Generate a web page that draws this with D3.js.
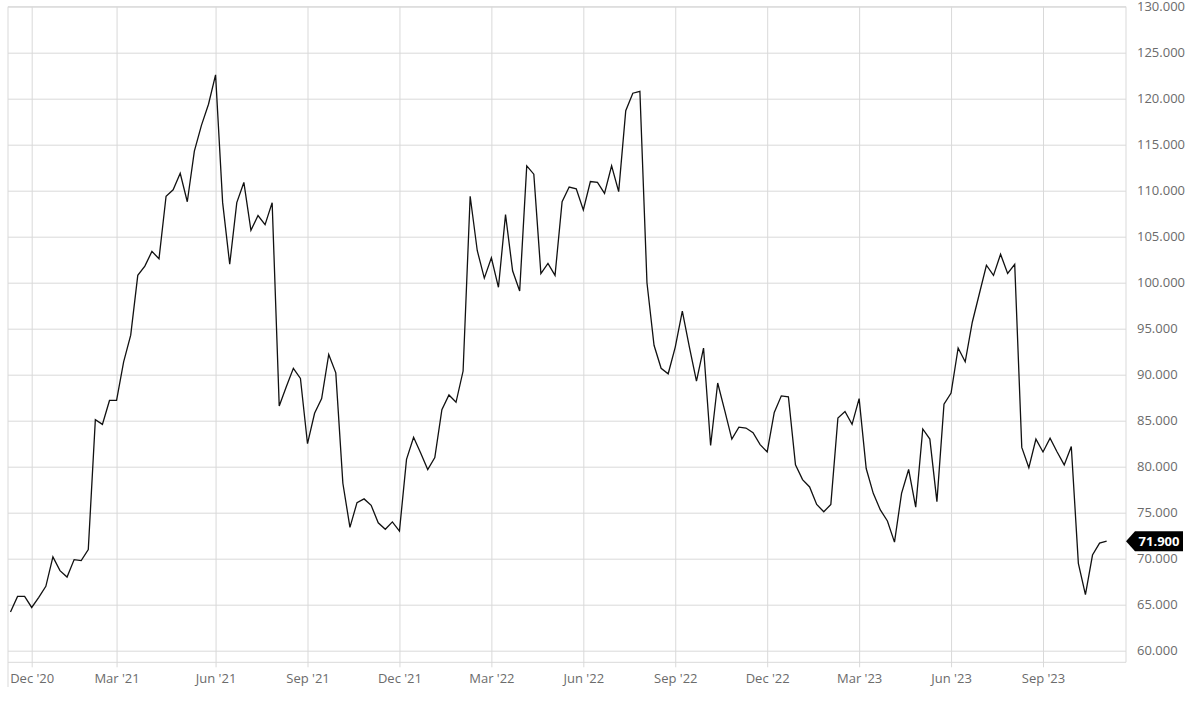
<!DOCTYPE html>
<html>
<head>
<meta charset="utf-8">
<script src="https://cdn.jsdelivr.net/npm/d3@7"></script>
<style>
  html, body { margin: 0; padding: 0; background: #fff; }
  svg { display: block; font-family: "Open Sans", "Noto Sans", sans-serif; }
</style>
</head>
<body>
<svg id="chart" width="1200" height="703"></svg>
<script>
// ---- data (weekly closes) ----
const startDate = "2020-11-16";           // first weekly observation (Monday)
const values = [
  64.2, 65.9, 65.9, 64.7, 65.8, 67.0, 70.2, 68.7, 68.0, 69.9, 69.8, 71.0,
  85.1, 84.6, 87.2, 87.2, 91.4, 94.3, 100.8, 101.8, 103.4, 102.6, 109.4, 110.1,
  111.9, 108.8, 114.3, 117.1, 119.4, 122.6, 108.7, 102.0, 108.7, 110.9, 105.7, 107.3,
  106.3, 108.7, 86.6, 88.7, 90.7, 89.6, 82.5, 85.8, 87.4, 92.2, 90.2, 78.2,
  73.4, 76.1, 76.5, 75.8, 73.9, 73.2, 74.0, 73.0, 80.8, 83.2, 81.5, 79.7,
  81.0, 86.2, 87.8, 87.0, 90.4, 109.4, 103.5, 100.5, 102.7, 99.5, 107.4, 101.3,
  99.1, 112.7, 111.8, 101.0, 102.1, 100.8, 108.8, 110.4, 110.2, 107.9, 111.0, 110.9,
  109.7, 112.7, 109.9, 118.7, 120.6, 120.8, 100.0, 93.2, 90.7, 90.1, 93.0, 96.9,
  93.0, 89.3, 92.9, 82.3, 89.1, 86.1, 83.0, 84.3, 84.2, 83.7, 82.4, 81.6,
  85.9, 87.7, 87.6, 80.2, 78.6, 77.8, 75.9, 75.1, 75.9, 85.3, 86.0, 84.6,
  87.4, 79.8, 77.1, 75.3, 74.1, 71.8, 77.1, 79.7, 75.6, 84.1, 83.0, 76.2,
  86.8, 88.0, 92.9, 91.4, 95.7, 98.8, 101.9, 100.8, 103.1, 101.0, 102.0, 82.1,
  79.9, 83.0, 81.6, 83.1, 81.6, 80.2, 82.2, 69.5, 66.1, 70.4, 71.7, 71.9
];
const tickMonths = [2, 5, 8, 11];          // Mar, Jun, Sep, Dec
const yTickValues = [60, 65, 70, 75, 80, 85, 90, 95, 100, 105, 110, 115, 120, 125, 130];
const lastLabel = "71.900";

// ---- build dated series ----
const parse = d3.timeParse("%Y-%m-%d");
const t0 = parse(startDate);
const data = values.map((v, i) => ({ date: d3.timeWeek.offset(t0, i), value: v }));

// ticks: first weekly observation inside each quarter month
const xTickValues = data.filter((d, i) =>
  i > 0 && tickMonths.includes(d.date.getMonth()) &&
  data[i - 1].date.getMonth() !== d.date.getMonth()
).map(d => d.date);

// ---- layout ----
const pLeft = 8, pRight = 1126, pTop = 6.7, pBottom = 662.3;
const svg = d3.select("#chart");
svg.append("rect").attr("width", 1200).attr("height", 703).attr("fill", "#fff");

// x scale: anchored so that Dec 7 2020 -> 31.7 and Sep 4 2023 -> 1043
const a0 = new Date(2020, 11, 7), a1 = new Date(2023, 8, 4);
const anchor = d3.scaleTime().domain([a0, a1]).range([31.7, 1043]);
const x = d3.scaleTime().domain([anchor.invert(pLeft), anchor.invert(pRight)]).range([pLeft, pRight]);
const y = d3.scaleLinear().domain([60, 130]).range([650.7, pTop]);

const gridColor = "#d9d9d9";
const textColor = "#6b6b6b";

// horizontal grid + y labels
const yAxis = d3.axisRight(y).tickValues(yTickValues)
  .tickSize(-(pRight - pLeft)).tickPadding(11).tickFormat(d3.format(".3f"));
const gy = svg.append("g").attr("transform", `translate(${pRight},0)`).call(yAxis);
gy.select(".domain").remove();
gy.selectAll(".tick line").attr("stroke", gridColor).attr("stroke-width", 1);
gy.selectAll(".tick text").attr("fill", textColor).attr("font-size", 13)
  .attr("font-family", '"Open Sans", sans-serif');

// vertical grid + x labels
const xAxis = d3.axisBottom(x).tickValues(xTickValues)
  .tickSize(-(pBottom - pTop)).tickFormat(d3.timeFormat("%b '%y"));
const gx = svg.append("g").attr("transform", `translate(0,${pBottom})`).call(xAxis);
gx.select(".domain").remove();
gx.selectAll(".tick line").attr("stroke", gridColor).attr("stroke-width", 1)
  .attr("y2", -(pBottom - pTop)).attr("y1", 5);
gx.selectAll(".tick text").attr("fill", textColor).attr("font-size", 13)
  .attr("font-family", '"Open Sans", sans-serif').attr("y", 11).attr("dy", "0.71em");

// frame
const frame = svg.append("g").attr("stroke", gridColor).attr("stroke-width", 1).attr("fill", "none");
frame.append("line").attr("x1", pLeft).attr("x2", pRight).attr("y1", pBottom).attr("y2", pBottom);
frame.append("line").attr("x1", pLeft).attr("x2", pRight).attr("y1", pTop).attr("y2", pTop);
frame.append("line").attr("x1", pLeft).attr("x2", pLeft).attr("y1", pTop).attr("y2", 687);
frame.append("line").attr("x1", pRight).attr("x2", pRight).attr("y1", pTop).attr("y2", pBottom);

// price line
const line = d3.line().x(d => x(d.date)).y(d => y(d.value));
svg.append("path").datum(data).attr("d", line)
  .attr("fill", "none").attr("stroke", "#111").attr("stroke-width", 1.3)
  .attr("stroke-linejoin", "miter");

// last value tag
const last = data[data.length - 1];
const ty = y(last.value);
const tag = svg.append("g").attr("transform", `translate(${pRight},${ty})`);
tag.append("path").attr("d", "M0,0 L9,-10 L57,-10 L57,10 L9,10 Z").attr("fill", "#000");
tag.append("text").attr("x", 33).attr("y", 0).attr("dy", "0.36em")
  .attr("text-anchor", "middle").attr("fill", "#fff").attr("font-weight", 700)
  .attr("font-size", 13).attr("font-family", '"Open Sans", sans-serif').text(lastLabel);
</script>
</body>
</html>
